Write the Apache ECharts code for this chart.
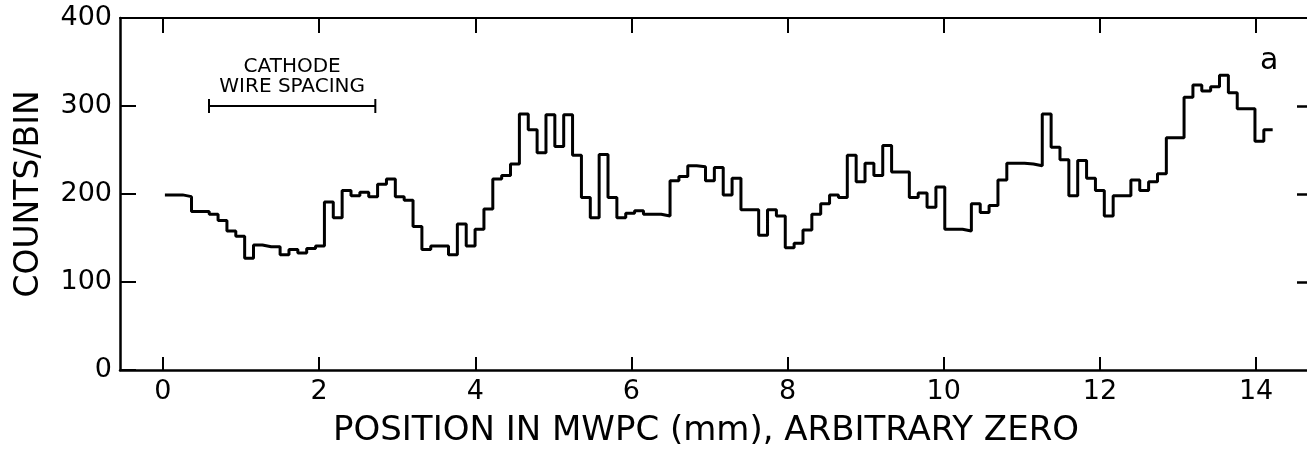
<!DOCTYPE html>
<html><head><meta charset="utf-8">
<script src="https://cdn.jsdelivr.net/npm/echarts@6/dist/echarts.min.js"></script>
<style>html,body{margin:0;padding:0;background:#fff}#c{width:1307px;height:456px}</style>
</head><body><div id="c"></div>
<script>
// Histogram binning (mm)
const binStart = 0.025;
const binWidth = 0.1135;
// Counts per bin
const counts = [
 199,199,197,180,180,177,170,158,152,127,
 142,140,140,131,137,133,138,141,191,173,
 204,198,202,197,211,217,197,193,163,137,
 141,141,131,166,141,160,183,217,221,234,
 291,273,247,290,254,290,244,196,173,245,
 196,173,178,181,177,177,175,215,220,232,
 231,215,230,199,218,182,182,153,182,175,
 139,144,159,177,189,199,196,244,214,235,
 221,255,225,225,196,201,185,208,160,160,
 158,189,179,187,216,235,235,234,232,291,
 253,239,198,238,218,204,175,198,198,216,
 204,214,223,264,264,310,324,317,322,335,
 315,297,297,260,273
];
const xTicks = [0,2,4,6,8,10,12,14];
const yTicks = [100,200,300];
const xRange = [-0.55, 14.652];
const yRange = [0, 400];
const wireSpacing = [0.59, 2.72];
const wireSpacingY = 300;
const annotationLines = ['CATHODE', 'WIRE SPACING'];
const panelLabel = 'a';
const xTitle = 'POSITION IN MWPC (mm), ARBITRARY ZERO';
const yTitle = 'COUNTS/BIN';

const histData = counts.map((v, i) => [binStart + i * binWidth, v]);
histData.push([binStart + counts.length * binWidth, counts[counts.length - 1]]);

const FONT = 'DejaVu Sans';
const chart = echarts.init(document.getElementById('c'), null, {renderer: 'canvas'});
const axisLine = {show: true, onZero: false, lineStyle: {color: '#000', width: 2.5}};
chart.setOption({
  animation: false,
  backgroundColor: '#fff',
  grid: {left: 120, right: 0, top: 18, bottom: 86, containLabel: false},
  xAxis: [{
    type: 'value', position: 'bottom', min: xRange[0], max: xRange[1],
    axisLine: axisLine,
    axisTick: {show: true, inside: true, length: 13, customValues: xTicks, lineStyle: {color: '#000', width: 2}},
    axisLabel: {show: true, customValues: xTicks, color: '#000', fontFamily: FONT, fontSize: 27, margin: 8},
    splitLine: {show: false},
    name: xTitle, nameLocation: 'middle', nameGap: 44,
    nameTextStyle: {color: '#000', fontFamily: FONT, fontSize: 34, padding: [0, 15, 0, 0]}
  }, {
    type: 'value', position: 'top', min: xRange[0], max: xRange[1],
    axisLine: {show: true, onZero: false, lineStyle: {color: '#000', width: 2}},
    axisTick: {show: true, inside: true, length: 15, customValues: xTicks, lineStyle: {color: '#000', width: 2}},
    axisLabel: {show: false}, splitLine: {show: false}
  }],
  yAxis: [{
    type: 'value', position: 'left', min: yRange[0], max: yRange[1], interval: 100,
    axisLine: axisLine,
    axisTick: {show: true, inside: true, length: 16, lineStyle: {color: '#000', width: 2}},
    axisLabel: {show: true, color: '#000', fontFamily: FONT, fontSize: 27, margin: 8},
    splitLine: {show: false},
    name: yTitle, nameLocation: 'middle', nameRotate: 90, nameGap: 74,
    nameTextStyle: {color: '#000', fontFamily: FONT, fontSize: 33}
  }, {
    type: 'value', position: 'right', min: yRange[0], max: yRange[1],
    axisLine: {show: false, onZero: false},
    axisTick: {show: true, inside: true, length: 10, customValues: yTicks, lineStyle: {color: '#000', width: 2.5}},
    axisLabel: {show: false}, splitLine: {show: false}
  }],
  series: [{
    type: 'line', step: 'end', data: histData, symbol: 'none',
    lineStyle: {color: '#000', width: 3}, xAxisIndex: 0, yAxisIndex: 0, z: 3
  }, {
    type: 'line', data: wireSpacing.map(x => [x, wireSpacingY]),
    symbol: 'rect', symbolSize: [2, 14], itemStyle: {color: '#000'},
    lineStyle: {color: '#000', width: 2}, xAxisIndex: 0, yAxisIndex: 0
  }]
});

const mid = chart.convertToPixel({xAxisIndex: 0, yAxisIndex: 0}, [(wireSpacing[0] + wireSpacing[1]) / 2, wireSpacingY]);
chart.setOption({
  graphic: [{
    type: 'text', left: mid[0] - 100, top: mid[1] - 49,
    style: {text: annotationLines.join('\n'), width: 200, align: 'center', x: 100, fill: '#000',
      font: '20px "DejaVu Sans"', lineHeight: 20, textAlign: 'center'}
  }, {
    type: 'text', left: 1260, top: 46,
    style: {text: panelLabel, fill: '#000', font: '30px "DejaVu Sans"'}
  }]
});
</script></body></html>
